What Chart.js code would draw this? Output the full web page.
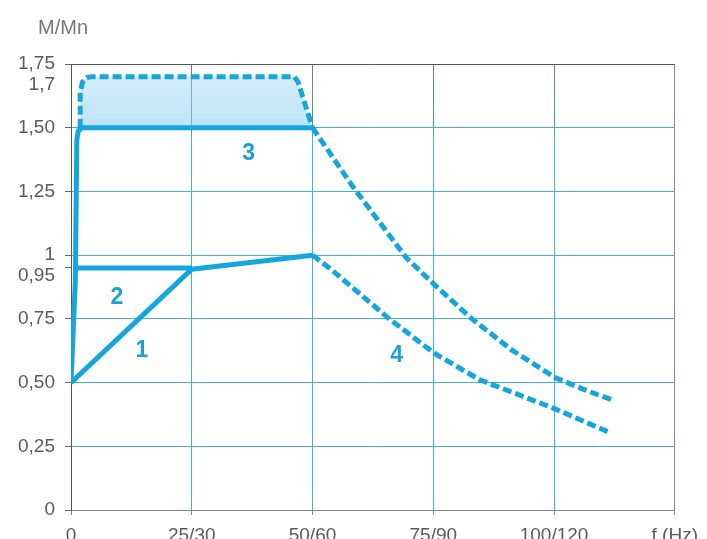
<!DOCTYPE html>
<html>
<head>
<meta charset="utf-8">
<script src="https://cdn.jsdelivr.net/npm/chart.js@4.4.1/dist/chart.umd.min.js"></script>
<style>
  html, body { margin: 0; padding: 0; background: #fff; }
  #wrap { width: 707px; height: 539px; }
</style>
</head>
<body>
<div id="wrap"><canvas id="chart"></canvas></div>
<script>
const xTicks = [0, 25, 50, 75, 100, 125];
const xTickLabels = ["0", "25/30", "50/60", "75/90", "100/120", "f (Hz)"];
const yTicks = [0, 0.25, 0.5, 0.75, 0.95, 1, 1.25, 1.5, 1.7, 1.75];
const yTickLabels = ["0", "0,25", "0,50", "0,75", ["", "0,95"], "1", "1,25", "1,50", ["", "1,7"], "1,75"];

// courbe 1 : couple utile, moteur autoventilé
const curve1X = [0, 25, 50];
const curve1Y = [0.5, 0.945, 1.0];
// courbe 2 : moteur motoventilé
const curve2X = [1.2, 25];
const curve2Y = [0.95, 0.95];
// courbe 3 : surcouple transitoire
const curve3X = [0, 0.9, 1.2, 1.5, 2.4, 50];
const curve3Y = [0.5, 0.9, 1.45, 1.488, 1.5, 1.5];
const curve3TopX = [1.9, 1.9, 2.4, 3.3, 4.3, 46.2, 47, 50];
const curve3TopY = [1.5, 1.64, 1.68, 1.697, 1.7, 1.7, 1.68, 1.5];
const curve3TailX = [50, 58.3, 69.4, 75.2, 83, 91.3, 100.2, 107.2, 112];
const curve3TailY = [1.5, 1.27, 0.99, 0.885, 0.75, 0.627, 0.52, 0.465, 0.433];
// courbe 4 : survitesse, puissance constante
const curve4X = [50, 54.1, 65.9, 75.2, 84.5, 100.2, 111.4];
const curve4Y = [1.0, 0.94, 0.75, 0.615, 0.512, 0.397, 0.305];

const curveNames = ["1", "2", "3", "4"];
const nameX = [14.7, 9.5, 36.8, 67.4];
const nameY = [0.627, 0.835, 1.40, 0.607];

const blue = "#16a6df";
const gridBlue = "#45afd9";
const fontFam = "'Liberation Sans', Arial, sans-serif";

function pts(xs, ys) {
  return xs.map((x, i) => ({ x: x, y: ys[i] }));
}

const solid = { borderColor: blue, borderWidth: 5, pointRadius: 0, showLine: true, borderJoinStyle: "round", fill: false };
const dashed = Object.assign({}, solid, { borderDash: [9, 4], borderCapStyle: "butt" });

// remplissage bleu clair, un peu plus pâle en haut
function zoneFill(c) {
  const a = c.chart.chartArea;
  if (!a) return "rgba(150,210,240,0.5)";
  const sy = c.chart.scales.y;
  const g = c.chart.ctx.createLinearGradient(0, sy.getPixelForValue(1.7), 0, sy.getPixelForValue(1.5));
  g.addColorStop(0, "rgba(160,215,243,0.45)");
  g.addColorStop(1, "rgba(140,206,240,0.58)");
  return g;
}

// verticales grises dans la partie haute, bleues ailleurs
function vGrid(c) {
  if (c.tick && (c.tick.value === 0 || c.tick.value === 125)) return "#888";
  const ch = c.chart;
  if (!ch.chartArea || !ch.scales.y) return gridBlue;
  const a = ch.chartArea;
  const yb = ch.scales.y.getPixelForValue(1.5);
  const t = (yb - a.top) / (a.bottom - a.top);
  const g = ch.ctx.createLinearGradient(0, a.top, 0, a.bottom);
  g.addColorStop(0, "#6f7f86");
  g.addColorStop(t, "#4a8fae");
  g.addColorStop(Math.min(1, t + 0.02), gridBlue);
  g.addColorStop(1, gridBlue);
  return g;
}

const curveNumbers = {
  id: "curveNumbers",
  afterDatasetsDraw(chart) {
    const c = chart.ctx;
    const sx = chart.scales.x, sy = chart.scales.y;
    c.save();
    c.fillStyle = "#1a9fd8";
    c.font = "bold 23px " + fontFam;
    c.textAlign = "center";
    c.textBaseline = "middle";
    curveNames.forEach((n, i) => {
      c.fillText(n, sx.getPixelForValue(nameX[i]), sy.getPixelForValue(nameY[i]));
    });
    c.fillStyle = "#777";
    c.font = "20px " + fontFam;
    c.textAlign = "left";
    c.fillText("M/Mn", 38, 28);
    c.restore();
  }
};

const ctx = document.getElementById("chart").getContext("2d");

new Chart(ctx, {
  type: "scatter",
  data: {
    datasets: [
      Object.assign({}, solid, { data: pts(curve1X, curve1Y) }),
      Object.assign({}, solid, { data: pts(curve2X, curve2Y) }),
      Object.assign({}, solid, { data: pts(curve3X, curve3Y) }),
      Object.assign({}, dashed, { data: pts(curve3TailX, curve3TailY) }),
      Object.assign({}, dashed, { data: pts(curve4X, curve4Y) }),
      Object.assign({}, dashed, { data: pts(curve3TopX, curve3TopY), fill: { value: 1.5 }, backgroundColor: zoneFill }),
    ],
  },
  options: {
    responsive: true,
    maintainAspectRatio: false,
    animation: false,
    layout: { padding: { left: 0, right: 31, top: 64, bottom: 0 } },
    plugins: {
      legend: { display: false },
      tooltip: { enabled: false },
    },
    scales: {
      x: {
        type: "linear",
        min: 0,
        max: 125,
        afterBuildTicks: (s) => { s.ticks = xTicks.map((v) => ({ value: v })); },
        afterFit: (s) => { s.height = 29; },
        ticks: {
          autoSkip: false,
          maxRotation: 0,
          padding: 9,
          color: "#5a5a5a",
          font: { family: fontFam, size: 19 },
          callback: (v) => xTickLabels[xTicks.indexOf(v)],
        },
        grid: {
          color: vGrid,
          tickColor: "#888",
          tickLength: 5,
          lineWidth: 1,
        },
        border: { color: "#888", width: 1 },
      },
      y: {
        type: "linear",
        min: 0,
        max: 1.75,
        afterBuildTicks: (s) => { s.ticks = yTicks.map((v) => ({ value: v })); },
        afterFit: (s) => { s.width = 71; },
        ticks: {
          autoSkip: false,
          padding: 10,
          color: "#5a5a5a",
          font: { family: fontFam, size: 19, lineHeight: 0.8 },
          callback: (v) => yTickLabels[yTicks.indexOf(v)],
        },
        grid: {
          color: (c) => {
            if (!c.tick) return gridBlue;
            if (c.tick.value === 0.95 || c.tick.value === 1.7) return "rgba(0,0,0,0)";
            if (c.tick.value === 1.75) return "#555";
            return gridBlue;
          },
          tickColor: (c) => (c.tick && c.tick.value === 1.7 ? "rgba(0,0,0,0)" : "#666"),
          tickLength: 6,
          lineWidth: 1,
        },
        border: { color: "#555", width: 1 },
      },
    },
  },
  plugins: [curveNumbers],
});
</script>
</body>
</html>
